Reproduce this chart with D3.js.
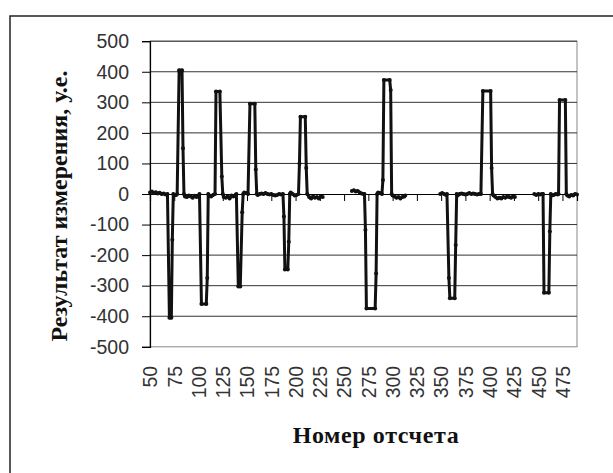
<!DOCTYPE html>
<html><head><meta charset="utf-8">
<script src="https://cdn.jsdelivr.net/npm/d3@7/dist/d3.min.js"></script>
<style>body{margin:0;background:#fff}svg{display:block}</style>
</head><body>
<svg id="chart" width="613" height="473"></svg>
<script>
// Sample number / measured value pairs, one array per continuous run of data
const run1 = [[50,5],[52,8],[54,3],[56,6],[58,2],[60,4],[62,0],[64,2],[66,-2],[68,0],
  [70,-405],[72,-405],[73,-150],[74,0],
  [75,-5],[77,-3],[78,0],[80,405],[83,405],[84,150],[85,0],
  [86,-8],[88,-10],[90,-5],[92,-8],[94,-12],[96,-6],[98,-10],[100,-5],[101,0],
  [103,-360],[108,-360],[109,-275],[110,0],
  [111,-5],[113,-8],[115,-3],[117,0],
  [118,335],[122,335],[124,57],[125,0],
  [126,-10],[128,-12],[130,-8],[132,-15],[134,-5],[136,-8],[138,-3],[139,0],
  [141,-303],[143,-303],[145,-60],[146,0],
  [147,5],[149,3],[151,0],
  [153,295],[158,295],[159,80],[160,0],
  [161,-3],[163,0],[165,2],[167,0],[169,3],[171,0],[173,-2],[175,0],[177,-3],[179,-5],[181,-3],[183,0],[185,-2],[187,0],
  [188,-74],[189,-247],[192,-247],[193,-156],[194,0],
  [195,5],[197,0],[199,-5],[201,-3],[203,0],
  [204,100],[205,253],[210,253],[211,85],[212,0],
  [214,-10],[216,-15],[218,-8],[220,-12],[222,-10],[224,-15],[226,-8],[228,-10]];
const run2 = [[258,10],[260,12],[262,8],[264,10],[266,5],[268,2],[270,0],[271,0],
  [272,-118],[273,-375],[282,-375],[283,-260],[284,0],
  [285,5],[287,3],[289,0],[290,46],
  [291,373],[297,373],[298,340],[299,0],
  [300,-5],[302,-8],[304,-12],[306,-10],[308,-15],[310,-10],[312,-8],[313,-5]];
const run3 = [[349,0],[351,3],[353,0],[355,-3],[356,0],
  [358,-275],[359,-341],[364,-341],[365,-167],[366,0],
  [367,-5],[369,0],[371,2],[373,0],[375,-2],[377,0],[379,3],[381,0],[383,2],[385,0],[387,-2],[389,0],[391,0],
  [393,337],[401,337],[402,85],[403,0],
  [404,-5],[406,-10],[408,-15],[410,-12],[412,-15],[414,-10],[416,-12],[418,-8],[420,-10],[422,-12],[424,-8],[426,-10]];
const run4 = [[446,0],[448,-3],[450,0],[452,-2],[454,0],[455,0],
  [456,-323],[461,-323],[462,-123],[463,0],
  [464,-5],[466,-3],[468,0],[470,-2],[471,0],
  [472,308],[478,308],[479,0],
  [480,-5],[482,-8],[484,-3],[486,-5],[488,0],[490,-2]];
const xTickLabels = [50,75,100,125,150,175,200,225,250,275,300,325,350,375,400,425,450,475];
const yTicks = [-500,-400,-300,-200,-100,0,100,200,300,400,500];
const xDomain = [50, 490];
const yTitle = "Результат измерения, у.е.";
const xTitle = "Номер отсчета";

const svg = d3.select("#chart");
const L = 150, R = 577, T = 41.2, B = 346.8;
const x = d3.scaleLinear().domain(xDomain).range([L, R]);
const y = d3.scaleLinear().domain([-500, 500]).range([B, T]);
const fmt = d => String(d);

// outer chart frame
svg.append("rect").attr("x", 10).attr("y", 16).attr("width", 640).attr("height", 500)
  .attr("fill", "none").attr("stroke", "#222").attr("stroke-width", 1.5);

// plot area border
svg.append("rect").attr("x", L).attr("y", T).attr("width", R - L).attr("height", B - T)
  .attr("fill", "none").attr("stroke", "#888").attr("stroke-width", 1);

// gridlines
svg.append("g").selectAll("line").data(yTicks.filter(v => v !== 0 && v !== -500)).join("line")
  .attr("x1", L).attr("x2", R).attr("y1", d => y(d)).attr("y2", d => y(d))
  .attr("stroke", "#333").attr("stroke-width", 1);

// y axis
const yAxis = svg.append("g").attr("transform", `translate(${L},0)`)
  .call(d3.axisLeft(y).tickValues(yTicks).tickSize(8).tickPadding(13).tickFormat(fmt));
yAxis.select(".domain").attr("stroke", "#000").attr("stroke-width", 1.2);
yAxis.selectAll(".tick line").attr("stroke", "#000");
yAxis.selectAll("text").attr("font-family", "'Liberation Sans', Arial, sans-serif")
  .attr("font-size", 19.5).attr("fill", "#333");

// x axis at zero with tick marks
const xAxis = svg.append("g").attr("transform", `translate(0,${y(0)})`)
  .call(d3.axisBottom(x).tickValues(xTickLabels).tickSize(7).tickFormat(""));
xAxis.select(".domain").attr("stroke", "#000").attr("stroke-width", 1.2);
xAxis.selectAll(".tick line").attr("stroke", "#000");

// x tick labels at bottom, rotated
const xLab = svg.append("g").attr("transform", `translate(0,${B})`)
  .call(d3.axisBottom(x).tickValues(xTickLabels).tickSize(0).tickFormat(fmt));
xLab.select(".domain").remove();
xLab.selectAll("text")
  .attr("font-family", "'Liberation Sans', Arial, sans-serif").attr("font-size", 19.5).attr("fill", "#333")
  .attr("text-anchor", "end").attr("dy", "0.35em")
  .attr("transform", "translate(0,19) rotate(-90)")
  .attr("x", 0).attr("y", 0);

// data line
const line = d3.line().x(d => x(d[0])).y(d => y(d[1]));
[run1, run2, run3, run4].forEach(run => {
  svg.append("path").datum(run).attr("d", line)
    .attr("fill", "none").attr("stroke", "#111").attr("stroke-width", 3)
    .attr("stroke-linejoin", "round");
  svg.append("g").selectAll("circle").data(run).join("circle")
    .attr("cx", d => x(d[0])).attr("cy", d => y(d[1])).attr("r", 2).attr("fill", "#111");
});

// axis titles
svg.append("text").attr("transform", `translate(67,206) rotate(-90)`)
  .attr("text-anchor", "middle").attr("font-family", "'Liberation Serif', 'Times New Roman', serif")
  .attr("font-weight", "bold").attr("font-size", 24).attr("fill", "#111").text(yTitle);
svg.append("text").attr("x", 376).attr("y", 443)
  .attr("text-anchor", "middle").attr("font-family", "'Liberation Serif', 'Times New Roman', serif")
  .attr("font-weight", "bold").attr("font-size", 24).attr("letter-spacing", 0.6)
  .attr("fill", "#111").text(xTitle);
</script>
</body></html>
